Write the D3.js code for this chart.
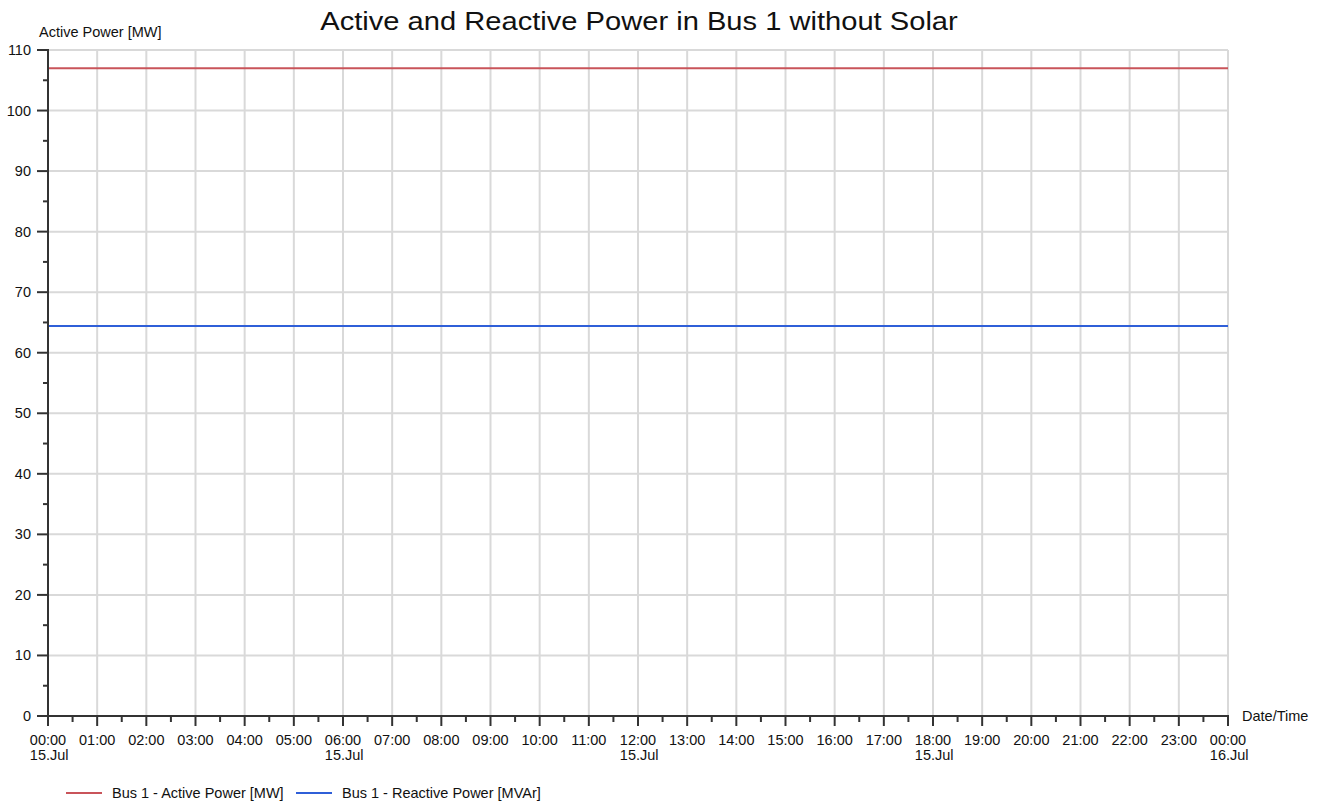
<!DOCTYPE html>
<html lang="en">
<head>
    <meta charset="UTF-8">
    <title>Active and Reactive Power in Bus 1 without Solar</title>
    <script src="https://d3js.org/d3.v7.min.js"></script>
    <style>
        body { margin: 0; background: #fff; font-family: Arial, "Liberation Sans", sans-serif; }
        svg text { fill: #111; }
        .grid line { stroke: #d9d9d9; stroke-width: 2; }
        .axis path, .axis line { stroke: #333; stroke-width: 2; }
    </style>
</head>
<body>
    <svg id="chart" width="1323" height="802"></svg>
    <script>
        // Data
        const timeStart = new Date(2023, 6, 15, 0, 0);
        const timeEnd = new Date(2023, 6, 16, 0, 0);
        const activePower = [107.0, 107.0];     // MW, constant over the day
        const reactivePower = [64.4, 64.4];     // MVAr, constant over the day
        const yTicks = [0, 10, 20, 30, 40, 50, 60, 70, 80, 90, 100, 110];
        const series = [
            { name: "Bus 1 - Active Power [MW]", values: activePower, color: "#c9545a" },
            { name: "Bus 1 - Reactive Power [MVAr]", values: reactivePower, color: "#2f5fd8" }
        ];

        const svg = d3.select("#chart");
        const margin = { left: 48, right: 1228, top: 50, bottom: 716 };
        const fs = 14.5;

        const x = d3.scaleTime().domain([timeStart, timeEnd]).range([margin.left, margin.right]);
        const y = d3.scaleLinear().domain([0, 110]).range([margin.bottom, margin.top]);

        const hours = d3.timeHour.every(1).range(timeStart, d3.timeHour.offset(timeEnd, 1));
        const halfHours = d3.timeMinute.every(30).range(timeStart, d3.timeMinute.offset(timeEnd, 1));

        // Gridlines
        const grid = svg.append("g").attr("class", "grid");
        grid.selectAll(".vx").data(hours.slice(1)).enter().append("line")
            .attr("x1", d => x(d)).attr("x2", d => x(d))
            .attr("y1", margin.top).attr("y2", margin.bottom);
        grid.selectAll(".hy").data(yTicks.slice(1)).enter().append("line")
            .attr("x1", margin.left).attr("x2", margin.right)
            .attr("y1", d => y(d)).attr("y2", d => y(d));

        // Series lines
        const line = d3.line()
            .x((d, i) => x(i === 0 ? timeStart : timeEnd))
            .y(d => y(d));
        series.forEach(s => {
            svg.append("path")
                .datum(s.values)
                .attr("fill", "none")
                .attr("stroke", s.color)
                .attr("stroke-width", 2)
                .attr("d", line);
        });

        // Y axis
        const yAxis = svg.append("g").attr("class", "axis");
        yAxis.append("line")
            .attr("x1", margin.left).attr("x2", margin.left)
            .attr("y1", margin.top - 1).attr("y2", margin.bottom + 1);
        yAxis.selectAll(".maj").data(yTicks).enter().append("line")
            .attr("x1", margin.left - 11).attr("x2", margin.left)
            .attr("y1", d => y(d)).attr("y2", d => y(d));
        yAxis.selectAll(".min").data(d3.range(5, 110, 10)).enter().append("line")
            .attr("x1", margin.left - 5).attr("x2", margin.left)
            .attr("y1", d => y(d)).attr("y2", d => y(d));
        yAxis.selectAll("text").data(yTicks).enter().append("text")
            .attr("x", 31).attr("y", d => y(d) + 5)
            .attr("text-anchor", "end")
            .attr("font-size", fs)
            .text(d => d);

        // X axis
        const xAxis = svg.append("g").attr("class", "axis");
        xAxis.append("line")
            .attr("x1", margin.left - 1).attr("x2", margin.right + 1)
            .attr("y1", margin.bottom).attr("y2", margin.bottom);
        xAxis.selectAll(".maj").data(hours).enter().append("line")
            .attr("x1", d => x(d)).attr("x2", d => x(d))
            .attr("y1", margin.bottom).attr("y2", margin.bottom + 10);
        xAxis.selectAll(".min").data(halfHours.filter(d => d.getMinutes() === 30)).enter().append("line")
            .attr("x1", d => x(d)).attr("x2", d => x(d))
            .attr("y1", margin.bottom).attr("y2", margin.bottom + 6);

        const fmtTime = d3.timeFormat("%H:%M");
        const fmtDate = d3.timeFormat("%d.%b");
        hours.forEach(h => {
            const t = xAxis.append("text")
                .attr("x", x(h)).attr("y", margin.bottom + 29)
                .attr("text-anchor", "middle")
                .attr("font-size", fs)
                .text(fmtTime(h));
            if (h.getHours() % 6 === 0) {
                const w = t.node().getComputedTextLength();
                xAxis.append("text")
                    .attr("x", x(h) - w / 2).attr("y", margin.bottom + 44)
                    .attr("font-size", fs)
                    .text(fmtDate(h));
            }
        });

        // Axis titles
        svg.append("text").attr("x", 39).attr("y", 37).attr("font-size", fs).text("Active Power [MW]");
        svg.append("text").attr("x", 1242).attr("y", 721).attr("font-size", fs).text("Date/Time");

        // Title (slightly wide, as in the original export)
        svg.append("text")
            .attr("transform", "translate(639,30) scale(1.12,1)")
            .attr("text-anchor", "middle")
            .attr("font-size", 26)
            .text("Active and Reactive Power in Bus 1 without Solar");

        // Legend
        const legendX = [66, 296];
        series.forEach((s, i) => {
            const g = svg.append("g").attr("transform", `translate(${legendX[i]},793)`);
            g.append("line").attr("x1", 0).attr("x2", 36).attr("y1", 0).attr("y2", 0)
                .attr("stroke", s.color).attr("stroke-width", 2);
            g.append("text").attr("x", 46).attr("y", 5).attr("font-size", fs).text(s.name);
        });
    </script>
</body>
</html>
